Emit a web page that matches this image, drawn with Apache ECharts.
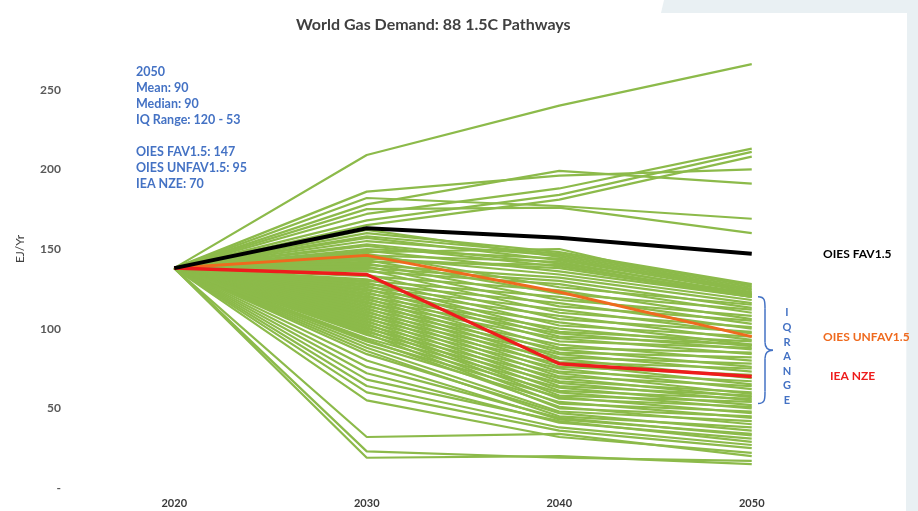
<!DOCTYPE html>
<html>
<head>
<meta charset="utf-8">
<script src="https://cdn.jsdelivr.net/npm/echarts@6/dist/echarts.min.js"></script>
<style>
  html, body { margin: 0; padding: 0; background: #ffffff; }
  #chart { width: 918px; height: 511px; }
</style>
</head>
<body>
<div id="chart"></div>
<script>
// Years on the horizontal axis
const years = ['2020', '2030', '2040', '2050'];
// Y axis tick labels (zero is shown as a dash)
const yTicks = ['-', '50', '100', '150', '200', '250'];

// Common 2020 starting point of every pathway (EJ/yr)
const start2020 = 138;

// 1.5C pathways: demand in 2030, 2040 and 2050 (same order in each array)
const path2030 = [209,172,168,165,186,178,182,175,
  160,158,155,162,150,157,148,153,146,152,144,149,142,
  145,140,147,138,143,136,141,133,139,130,137,128,134,126,131,124,129,122,127,120,125,118,123,116,121,114,119,112,117,110,115,108,113,106,111,104,109,102,107,100,105,98,103,
  96,101,94,99,92,97,90,88,93,86,84,80,76,72,68,64,60,55,32,23,19];
const path2040 = [240,188,184,181,196,199,177,176,
  148,147,146,145,144,143,150,141,142,139,138,136,140,
  134,132,126,130,122,128,118,124,114,120,110,116,106,112,102,108,98,104,95,100,92,97,88,94,85,90,82,87,79,84,76,81,73,78,70,75,67,72,64,69,61,66,58,
  63,56,60,53,57,50,54,48,51,45,47,43,44,41,42,38,36,32,34,19,20];
const path2050 = [266,213,211,208,200,191,169,160,
  128,127,126,125,124,123,122,122,121,121,120,120,120,
  118,116,115,113,112,110,108,106,105,103,101,100,98,97,95,93,92,90,90,89,88,87,85,84,82,80,78,76,75,73,71,69,67,65,64,62,60,59,58,57,56,55,54,
  52,51,50,48,47,45,44,42,40,38,36,34,33,31,29,27,25,22,20,17,15];

// Highlighted scenarios
const oiesFav = [138, 163, 157, 147];
const oiesUnfav = [138, 146, 123, 95];
const ieaNze = [138, 134, 78, 70];
const keyNames = ['OIES FAV1.5', 'OIES UNFAV1.5', 'IEA NZE'];

// 2050 summary statistics
const iqHigh = 120;
const iqLow = 53;
const summaryLines = ['2050', 'Mean: 90', 'Median: 90', 'IQ Range: 120 - 53', '', 'OIES FAV1.5: 147', 'OIES UNFAV1.5: 95', 'IEA NZE: 70'];

const FONT = 'Lato, "Open Sans", sans-serif';
const BLUE = '#4472c4';
const chart = echarts.init(document.getElementById('chart'), null, { renderer: 'canvas' });

const series = [];
for (let i = 0; i < path2050.length; i++) {
  series.push({
    type: 'line',
    data: [start2020, path2030[i], path2040[i], path2050[i]],
    symbol: 'none',
    silent: true,
    z: 2,
    lineStyle: { color: '#8cba4a', width: 2.2 },
    animation: false
  });
}

const keyColors = ['#000000', '#ef6a1e', '#ee1c1c'];
const keyWidths = [4, 3, 3.5];
const keyData = [oiesFav, oiesUnfav, ieaNze];
[1, 2, 0].forEach(function (k) {
  series.push({
    type: 'line',
    name: keyNames[k],
    data: keyData[k],
    symbol: 'none',
    silent: true,
    z: 5,
    lineStyle: { color: keyColors[k], width: keyWidths[k] },
    animation: false
  });
});

chart.setOption({
  backgroundColor: '#ffffff',
  animation: false,
  title: {
    text: 'World Gas Demand: 88 1.5C Pathways',
    left: 291,
    top: 12,
    textStyle: { fontFamily: FONT, fontWeight: 'bold', fontSize: 16, color: '#404040' }
  },
  grid: { left: 78, right: 70, top: 10, bottom: 23 },
  xAxis: {
    type: 'category',
    data: years,
    boundaryGap: true,
    axisLine: { show: false },
    axisTick: { show: false },
    axisLabel: { margin: 10, fontFamily: FONT, fontWeight: 'bold', fontSize: 11, color: '#3a3a3a' }
  },
  yAxis: {
    type: 'value',
    min: 0,
    max: 300,
    interval: 50,
    name: 'EJ/Yr',
    nameLocation: 'middle',
    nameGap: 52,
    nameTextStyle: { fontFamily: FONT, fontSize: 12, color: '#404040' },
    splitLine: { show: false },
    axisLine: { show: false },
    axisTick: { show: false },
    axisLabel: {
      margin: 17,
      fontFamily: FONT,
      fontWeight: 'bold',
      fontSize: 12,
      color: '#595959',
      formatter: function (v) { const k = v / 50; return k < yTicks.length ? yTicks[k] : ''; }
    }
  },
  series: series
});

// Scenario names beside the 2050 end values
const keyOffsets = [823, 823, 830];
const keyLabelEls = keyData.map(function (d, k) {
  return {
    type: 'text',
    silent: true,
    x: keyOffsets[k],
    y: chart.convertToPixel({ yAxisIndex: 0 }, d[d.length - 1]),
    style: {
      text: keyNames[k],
      fill: keyColors[k],
      font: 'bold 12px ' + FONT,
      align: 'left',
      verticalAlign: 'middle'
    }
  };
});

// IQ range brace
const yTop = chart.convertToPixel({ yAxisIndex: 0 }, iqHigh);
const yBot = chart.convertToPixel({ yAxisIndex: 0 }, iqLow);
const yMid = (yTop + yBot) / 2;
const bx = 758;
const braceStyle = { fill: null, stroke: BLUE, lineWidth: 1.5 };

const braceParts = [
  { type: 'bezierCurve', shape: { x1: bx, y1: yTop, cpx1: bx + 7, cpy1: yTop, cpx2: bx + 7, cpy2: yTop + 4, x2: bx + 7, y2: yTop + 12 } },
  { type: 'line', shape: { x1: bx + 7, y1: yTop + 12, x2: bx + 7, y2: yMid - 8 } },
  { type: 'bezierCurve', shape: { x1: bx + 7, y1: yMid - 8, cpx1: bx + 7, cpy1: yMid - 2, cpx2: bx + 11, cpy2: yMid, x2: bx + 15, y2: yMid } },
  { type: 'bezierCurve', shape: { x1: bx + 15, y1: yMid, cpx1: bx + 11, cpy1: yMid, cpx2: bx + 7, cpy2: yMid + 2, x2: bx + 7, y2: yMid + 8 } },
  { type: 'line', shape: { x1: bx + 7, y1: yMid + 8, x2: bx + 7, y2: yBot - 12 } },
  { type: 'bezierCurve', shape: { x1: bx + 7, y1: yBot - 12, cpx1: bx + 7, cpy1: yBot - 4, cpx2: bx + 7, cpy2: yBot, x2: bx, y2: yBot } }
].map(function (p) { p.silent = true; p.style = braceStyle; return p; });

const letterEls = 'IQRANGE'.split('').map(function (ch, i) {
  return {
    type: 'text',
    silent: true,
    x: 787,
    y: yTop + 16 + i * 14.6,
    style: {
      text: ch,
      fill: BLUE,
      font: 'bold 11px ' + FONT,
      align: 'center',
      verticalAlign: 'middle'
    }
  };
});

chart.setOption({
  graphic: [
    {
      type: 'polygon',
      z: -100,
      silent: true,
      shape: { points: [[664, 0], [918, 0], [918, 511], [906, 511], [907, 13], [661, 13]] },
      style: { fill: '#e9f0f3' }
    },
    {
      type: 'text',
      x: 136,
      y: 64,
      silent: true,
      style: {
        text: summaryLines.join('\n'),
        fill: BLUE,
        font: 'bold 12.5px ' + FONT,
        lineHeight: 16
      }
    }
  ].concat(braceParts, letterEls, keyLabelEls)
});
</script>
</body>
</html>
